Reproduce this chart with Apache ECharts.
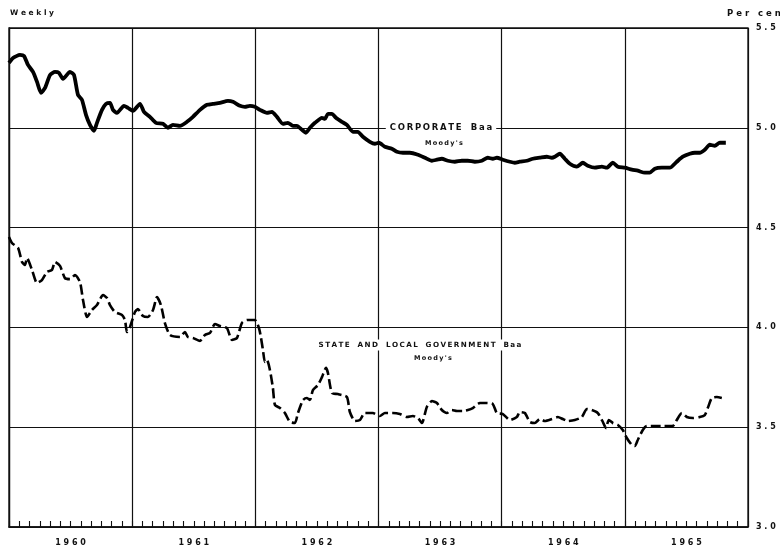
<!DOCTYPE html>
<html>
<head>
<meta charset="utf-8">
<script src="https://cdn.jsdelivr.net/npm/echarts@6/dist/echarts.min.js"></script>
<style>
html,body{margin:0;padding:0;background:#fff;}
#chart{width:780px;height:548px;}
</style>
</head>
<body>
<div id="chart"></div>
<script>
// x = months since start of January 1960
const corpMonths = [0.00,0.39,1.07,1.46,1.85,2.34,2.73,3.12,3.51,4.00,4.48,4.87,5.26,5.94,6.33,6.72,7.11,7.50,7.89,8.28,8.57,9.06,9.45,9.84,10.13,10.52,11.20,11.59,12.08,12.76,13.15,13.73,14.32,15.00,15.49,15.97,16.66,17.34,17.92,18.61,19.29,19.87,20.55,21.33,21.82,22.50,22.99,23.47,23.96,24.45,25.13,25.62,26.10,26.69,27.17,27.66,28.05,28.54,28.93,29.32,29.81,30.49,30.78,31.07,31.46,31.85,32.43,32.92,33.51,33.99,34.48,35.16,35.65,36.04,36.62,37.30,37.79,38.38,39.06,39.84,40.52,41.20,41.69,42.17,42.76,43.44,44.12,44.71,45.39,46.07,46.65,47.14,47.53,48.12,48.80,49.28,49.77,50.45,51.04,51.72,52.40,52.89,53.18,53.67,54.15,54.64,55.32,55.91,56.39,57.08,57.76,58.24,58.83,59.32,60.00,60.68,61.26,61.95,62.43,62.92,63.60,64.38,65.06,65.65,66.33,66.82,67.30,67.79,68.28,68.77,69.25,69.84];
const corpValues = [5.325,5.35,5.365,5.36,5.315,5.28,5.23,5.175,5.20,5.265,5.28,5.275,5.245,5.28,5.265,5.165,5.14,5.065,5.015,4.985,5.025,5.09,5.12,5.125,5.09,5.075,5.11,5.10,5.085,5.12,5.08,5.055,5.025,5.02,5.00,5.015,5.01,5.03,5.055,5.09,5.115,5.12,5.125,5.135,5.13,5.11,5.105,5.11,5.105,5.09,5.075,5.08,5.055,5.02,5.025,5.01,5.01,4.99,4.975,5.00,5.025,5.05,5.045,5.07,5.07,5.05,5.03,5.015,4.98,4.98,4.955,4.93,4.92,4.925,4.905,4.895,4.88,4.875,4.875,4.865,4.85,4.835,4.84,4.845,4.835,4.83,4.835,4.835,4.83,4.835,4.85,4.845,4.85,4.84,4.83,4.825,4.83,4.835,4.845,4.85,4.855,4.85,4.855,4.87,4.845,4.82,4.805,4.825,4.81,4.80,4.805,4.80,4.825,4.805,4.80,4.79,4.785,4.775,4.775,4.795,4.80,4.80,4.83,4.855,4.87,4.875,4.875,4.89,4.915,4.91,4.925,4.925];

const stateMonths = [0.00,0.29,0.88,1.27,1.56,1.75,2.24,2.73,3.21,3.70,4.19,4.48,4.97,5.45,5.94,6.43,6.92,7.21,7.60,8.08,8.57,9.16,9.55,9.84,10.32,11.01,11.30,11.49,11.79,12.27,12.56,13.05,13.54,14.03,14.42,14.80,15.19,15.68,16.66,17.14,17.43,17.92,18.60,19.09,19.58,20.06,20.55,21.23,21.72,22.21,22.69,23.18,23.96,24.35,24.54,24.74,24.93,25.13,25.42,25.71,25.91,26.40,26.88,27.37,27.86,28.15,28.64,29.03,29.32,29.61,30.10,30.49,30.88,31.07,31.46,32.04,32.92,33.21,33.70,34.19,34.67,35.45,36.14,36.62,37.40,38.08,38.77,39.35,39.84,40.23,40.71,41.20,41.69,42.17,42.66,43.15,43.64,44.22,44.71,45.19,45.88,46.56,47.14,47.53,48.12,48.80,49.48,49.77,50.26,50.75,51.23,51.72,52.21,52.89,53.47,53.96,54.45,55.13,55.81,56.30,56.78,57.37,57.86,58.15,58.44,58.83,59.32,59.80,60.19,60.68,60.98,61.26,61.75,62.14,62.73,63.70,64.67,65.06,65.55,66.04,66.62,67.30,67.79,68.08,68.47,68.96,69.45];
const stateValues = [4.453,4.423,4.398,4.328,4.313,4.348,4.288,4.222,4.237,4.278,4.288,4.328,4.308,4.247,4.242,4.262,4.227,4.137,4.052,4.087,4.112,4.162,4.147,4.112,4.077,4.062,4.037,3.977,4.002,4.077,4.092,4.057,4.052,4.087,4.152,4.112,4.022,3.962,3.952,3.977,3.952,3.947,3.932,3.962,3.972,4.017,4.007,3.997,3.937,3.947,4.022,4.037,4.037,3.997,3.952,3.887,3.827,3.837,3.787,3.697,3.611,3.596,3.571,3.526,3.521,3.571,3.636,3.646,3.636,3.686,3.711,3.751,3.797,3.772,3.671,3.666,3.651,3.576,3.531,3.536,3.571,3.571,3.556,3.571,3.571,3.566,3.551,3.556,3.546,3.521,3.601,3.631,3.621,3.586,3.571,3.586,3.581,3.581,3.586,3.596,3.621,3.621,3.616,3.571,3.566,3.536,3.551,3.576,3.571,3.526,3.521,3.541,3.531,3.541,3.551,3.541,3.531,3.536,3.551,3.591,3.586,3.571,3.526,3.496,3.536,3.521,3.511,3.486,3.446,3.411,3.406,3.436,3.486,3.506,3.506,3.506,3.506,3.536,3.571,3.551,3.546,3.551,3.561,3.596,3.646,3.651,3.646];

const years = ['1960','1961','1962','1963','1964','1965'];
const yTicks = [3.0,3.5,4.0,4.5,5.0,5.5];

const sp = s => s.split('').join(' ');
// thin-spaced lettering, wider gap between words
const tsp = s => s.split(' ').map(w => w.split('').join('\u2009')).join('\u2009  \u2009');
const zip = (a, b) => a.map((x, i) => [x, b[i]]);

const chart = echarts.init(document.getElementById('chart'));
const FONT = '"DejaVu Sans", sans-serif';
const INK = '#111';

chart.setOption({
  animation: false,
  backgroundColor: '#fff',
  grid: { left: 9, right: 32, top: 28, bottom: 21, show: true, borderColor: INK, borderWidth: 1.3, backgroundColor: 'transparent' },
  xAxis: [
    { type: 'value', min: 0, max: 72, interval: 12,
      axisLine: { show: false }, axisTick: { show: false }, axisLabel: { show: false },
      splitLine: { show: true, lineStyle: { color: INK, width: 1.2 } } },
    { type: 'value', min: 0, max: 72, interval: 1, position: 'bottom',
      axisLine: { show: true, onZero: false, lineStyle: { color: INK, width: 1.5 } },
      axisTick: { show: true, inside: true, length: 6, lineStyle: { color: INK, width: 1.1 } },
      axisLabel: { show: false }, splitLine: { show: false } },
    { type: 'value', min: 0, max: 72, interval: 6, position: 'bottom',
      axisLine: { show: false }, axisTick: { show: false }, splitLine: { show: false },
      axisLabel: { show: true, margin: 12, color: INK, fontFamily: FONT, fontWeight: 'bold', fontSize: 8,
        formatter: v => (v % 12 === 6) ? sp(years[(v - 6) / 12]) : '' } }
  ],
  yAxis: [
    { type: 'value', min: 3.0, max: 5.5, interval: 0.5, position: 'right',
      axisLine: { show: true, lineStyle: { color: INK, width: 1.3 } }, axisTick: { show: false },
      splitLine: { show: true, lineStyle: { color: INK, width: 1.2 } },
      axisLabel: { margin: 8, color: INK, fontFamily: FONT, fontWeight: 'bold', fontSize: 8,
        formatter: v => yTicks.indexOf(v) >= 0 ? sp(v.toFixed(1)) : '' } }
  ],
  series: [
    { name: 'Corporate Baa', type: 'line', xAxisIndex: 0, yAxisIndex: 0, data: zip(corpMonths, corpValues),
      showSymbol: false, smooth: 0.2, lineStyle: { color: '#000', width: 3.8 }, z: 5 },
    { name: 'State and Local Government Baa', type: 'line', xAxisIndex: 0, yAxisIndex: 0, data: zip(stateMonths, stateValues),
      showSymbol: false, smooth: 0.2, lineStyle: { color: '#000', width: 2.6, type: [10, 4] }, z: 5 }
  ],
  graphic: [
    { type: 'text', left: 10, top: 9, style: { text: sp('Weekly'), font: 'bold 7.5px ' + FONT, fill: INK } },
    { type: 'text', left: 727, top: 9, style: { text: 'P e r   c e n t', font: 'bold 8.5px ' + FONT, fill: INK } },
    { type: 'text', x: 441, y: 128, z: 10, style: { text: tsp('CORPORATE Baa'), font: 'bold 8.5px ' + FONT, fill: INK, align: 'center', verticalAlign: 'middle', backgroundColor: '#fff', padding: [2, 4] } },
    { type: 'text', x: 444, y: 143, z: 10, style: { text: tsp("Moody's"), font: 'bold 6.5px ' + FONT, fill: INK, align: 'center', verticalAlign: 'middle' } },
    { type: 'text', x: 420, y: 345, z: 10, style: { text: tsp('STATE AND LOCAL GOVERNMENT Baa'), font: 'bold 7.2px ' + FONT, fill: INK, align: 'center', verticalAlign: 'middle', backgroundColor: '#fff', padding: [2, 4] } },
    { type: 'text', x: 433, y: 358, z: 10, style: { text: tsp("Moody's"), font: 'bold 6.5px ' + FONT, fill: INK, align: 'center', verticalAlign: 'middle', backgroundColor: '#fff', padding: [1, 2] } }
  ]
});
</script>
</body>
</html>
